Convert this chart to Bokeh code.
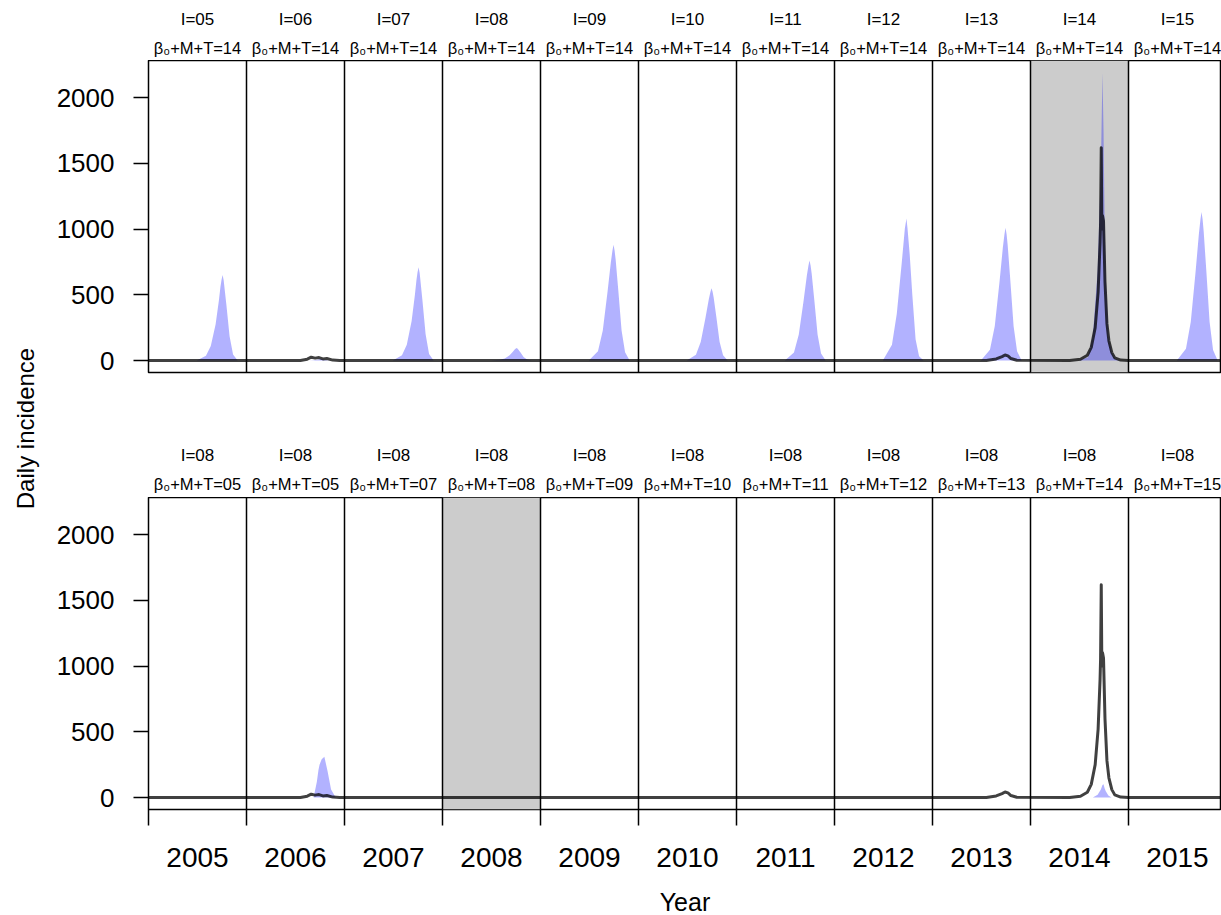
import math
from bokeh.plotting import figure
from bokeh.models import Range1d, FixedTicker, CustomJSTickFormatter, BoxAnnotation, Span
from bokeh.layouts import row, column
from bokeh.embed import file_html
from bokeh.resources import INLINE
from bokeh.core.properties import value

FONT = "Liberation Sans"

# ---------------- data ----------------
years = [2005, 2006, 2007, 2008, 2009, 2010, 2011, 2012, 2013, 2014, 2015]
top_I = ["05", "06", "07", "08", "09", "10", "11", "12", "13", "14", "15"]
top_B = ["14", "14", "14", "14", "14", "14", "14", "14", "14", "14", "14"]
bottom_I = ["08", "08", "08", "08", "08", "08", "08", "08", "08", "08", "08"]
bottom_B = ["05", "05", "07", "08", "09", "10", "11", "12", "13", "14", "15"]
highlight_top = 2014
highlight_bottom = 2008
y_ticks = [0, 500, 1000, 1500, 2000]

# day of year at which simulated incidence was read
day_grid = [180, 214, 232, 250, 262, 268, 272, 276, 280, 290, 302, 315, 332]

sim_top_2005 = [0, 36, 110, 275, 455, 560, 615, 650, 610, 425, 185, 45, 0]
sim_top_2006 = [0, 0, 0, 2, 5, 8, 10, 12, 10, 5, 2, 0, 0]
sim_top_2007 = [0, 39, 120, 300, 497, 612, 672, 710, 666, 464, 202, 49, 0]
sim_top_2008 = [0, 5, 16, 40, 66, 82, 90, 95, 89, 62, 27, 7, 0]
sim_top_2009 = [0, 70, 229, 528, 748, 836, 880, 836, 766, 528, 229, 62, 0]
sim_top_2010 = [0, 44, 143, 330, 468, 523, 550, 523, 479, 330, 143, 39, 0]
sim_top_2011 = [0, 61, 198, 456, 646, 722, 760, 722, 661, 456, 198, 53, 0]
sim_top_2012 = [0, 119, 356, 734, 1004, 1080, 1004, 907, 810, 497, 162, 32, 0]
sim_top_2013 = [0, 81, 263, 606, 859, 960, 1010, 960, 879, 606, 263, 71, 0]
sim_top_2014 = [0, 25, 180, 680, 1450, 2190, 1750, 1080, 650, 180, 65, 12, 0]
sim_top_2015 = [0, 90, 294, 678, 960, 1074, 1130, 1074, 983, 678, 294, 79, 0]

sim_bottom_2006 = [0, 0, 0, 0, 120, 210, 250, 270, 290, 310, 200, 60, 0]
sim_bottom_2014 = [0, 0, 0, 20, 60, 95, 100, 70, 50, 15, 0, 0, 0]

sim_top = {2005: sim_top_2005, 2006: sim_top_2006, 2007: sim_top_2007, 2008: sim_top_2008,
           2009: sim_top_2009, 2010: sim_top_2010, 2011: sim_top_2011, 2012: sim_top_2012,
           2013: sim_top_2013, 2014: sim_top_2014, 2015: sim_top_2015}
sim_bottom = {2006: sim_bottom_2006, 2014: sim_bottom_2014}

# observed daily incidence (decimal year, cases)
obs_t = [2005.0, 2006.55, 2006.62, 2006.66, 2006.70, 2006.74, 2006.78, 2006.82, 2006.88, 2006.95,
         2013.55, 2013.65, 2013.71, 2013.74, 2013.77, 2013.80, 2013.86,
         2014.40, 2014.51, 2014.58, 2014.62, 2014.66, 2014.69, 2014.71, 2014.715, 2014.722,
         2014.728, 2014.735, 2014.745, 2014.76, 2014.78, 2014.80, 2014.83, 2014.86, 2014.92,
         2015.0, 2016.0]
obs_v = [0, 0, 10, 25, 18, 22, 12, 15, 3, 0,
         0, 12, 30, 42, 35, 15, 2,
         0, 10, 40, 100, 250, 520, 900, 1050, 1617,
         1000, 1100, 1060, 600, 280, 150, 60, 20, 3,
         0, 0]

# ---------------- layout constants ----------------
PX_PER_YEAR = 98
FRAME_W = 1073
FRAME_H = 312
LEFT_W = 50
PX_PER_UNIT = 0.1315
Y0 = -12 / PX_PER_UNIT
Y1 = Y0 + FRAME_H / PX_PER_UNIT
X0 = years[0]
X1 = years[0] + FRAME_W / PX_PER_YEAR


def make_header(i_codes, b_codes, height, y_i, y_b):
    h = figure(frame_width=FRAME_W, frame_height=height,
               x_range=Range1d(X0, X1), y_range=Range1d(0, height),
               output_backend="svg", toolbar_location=None,
               min_border_left=148 - LEFT_W, min_border_right=0,
               min_border_top=0, min_border_bottom=0,
               x_axis_location=None, y_axis_location=None, outline_line_color=None)
    h.grid.visible = False
    mids = [yr + 0.5 for yr in years]
    h.text(x=mids, y=[y_i] * len(mids), text=["I=" + c for c in i_codes],
           text_align="center", text_baseline="middle", text_font=value(FONT),
           text_font_size="17px", text_color="black")
    h.text(x=mids, y=[y_b] * len(mids), text=["\u03b2\u2080+M+T=" + c for c in b_codes],
           text_align="center", text_baseline="middle", text_font=value(FONT),
           text_font_size="16.5px", text_color="black")
    return h


def make_panel(sims, highlight, show_x, bottom_border):
    p = figure(frame_width=FRAME_W, frame_height=FRAME_H,
               x_range=Range1d(X0, X1), y_range=Range1d(Y0, Y1),
               output_backend="svg", toolbar_location=None,
               min_border_left=148 - LEFT_W, min_border_right=0,
               min_border_top=0, min_border_bottom=bottom_border,
               x_axis_location="below" if show_x else None)
    p.grid.visible = False
    p.background_fill_color = "white"
    p.border_fill_color = "white"
    p.outline_line_color = "black"
    p.outline_line_width = 1.5

    p.add_layout(BoxAnnotation(left=highlight, right=highlight + 1, fill_color="#cccccc",
                               fill_alpha=1, line_color=None, level="underlay"))

    for yr, vals in sims.items():
        xs = [yr + d / 365.0 for d in day_grid]
        p.varea(x=xs, y1=[0] * len(xs), y2=vals, fill_color="blue", fill_alpha=0.3)

    p.line(obs_t, obs_v, line_color="black", line_alpha=0.75, line_width=3,
           line_join="round")

    for yr in years[1:]:
        p.add_layout(Span(location=yr, dimension="height", line_color="black",
                          line_width=1.5))

    ya = p.yaxis[0]
    ya.ticker = FixedTicker(ticks=y_ticks)
    ya.axis_line_color = None
    ya.major_tick_out = 15
    ya.major_tick_in = 0
    ya.major_tick_line_color = "black"
    ya.major_tick_line_width = 1.5
    ya.minor_tick_line_color = None
    ya.major_label_standoff = 19
    ya.major_label_text_font = FONT
    ya.major_label_text_font_size = "26px"
    ya.major_label_text_color = "black"

    if show_x:
        xa = p.xaxis[0]
        xa.ticker = FixedTicker(ticks=[yr + 0.5 for yr in years],
                                minor_ticks=years + [years[-1] + 1])
        xa.formatter = CustomJSTickFormatter(code="return String(Math.floor(tick));")
        xa.axis_line_color = None
        xa.major_tick_out = 0
        xa.major_tick_in = 0
        xa.major_tick_line_color = None
        xa.minor_tick_out = 16
        xa.minor_tick_in = 0
        xa.minor_tick_line_color = "black"
        xa.minor_tick_line_width = 1.5
        xa.major_label_standoff = 22
        xa.major_label_text_font = FONT
        xa.major_label_text_font_size = "28px"
        xa.major_label_text_color = "black"
        xa.axis_label = "Year"
        xa.axis_label_text_font = FONT
        xa.axis_label_text_font_size = "25px"
        xa.axis_label_text_font_style = "normal"
        xa.axis_label_text_color = "black"
        xa.axis_label_standoff = 18
    return p


head_top = make_header(top_I, top_B, 60, 41.5, 13.0)
top = make_panel(sim_top, highlight_top, False, 63)
head_bottom = make_header(bottom_I, bottom_B, 62, 42.0, 14.0)
bottom = make_panel(sim_bottom, highlight_bottom, True, 106)

left = figure(width=LEFT_W, height=915, x_range=Range1d(0, LEFT_W), y_range=Range1d(0, 915),
              output_backend="svg", toolbar_location=None, min_border=0,
              x_axis_location=None, y_axis_location=None, outline_line_color=None)
left.grid.visible = False
left.text(x=[25], y=[487], text=["Daily incidence"], angle=math.pi / 2,
          text_align="center", text_baseline="middle", text_font=value(FONT),
          text_font_size="24px", text_color="black")

layout = row(left, column(head_top, top, head_bottom, bottom))

with open("out.html", "w") as f:
    f.write(file_html(layout, INLINE))
